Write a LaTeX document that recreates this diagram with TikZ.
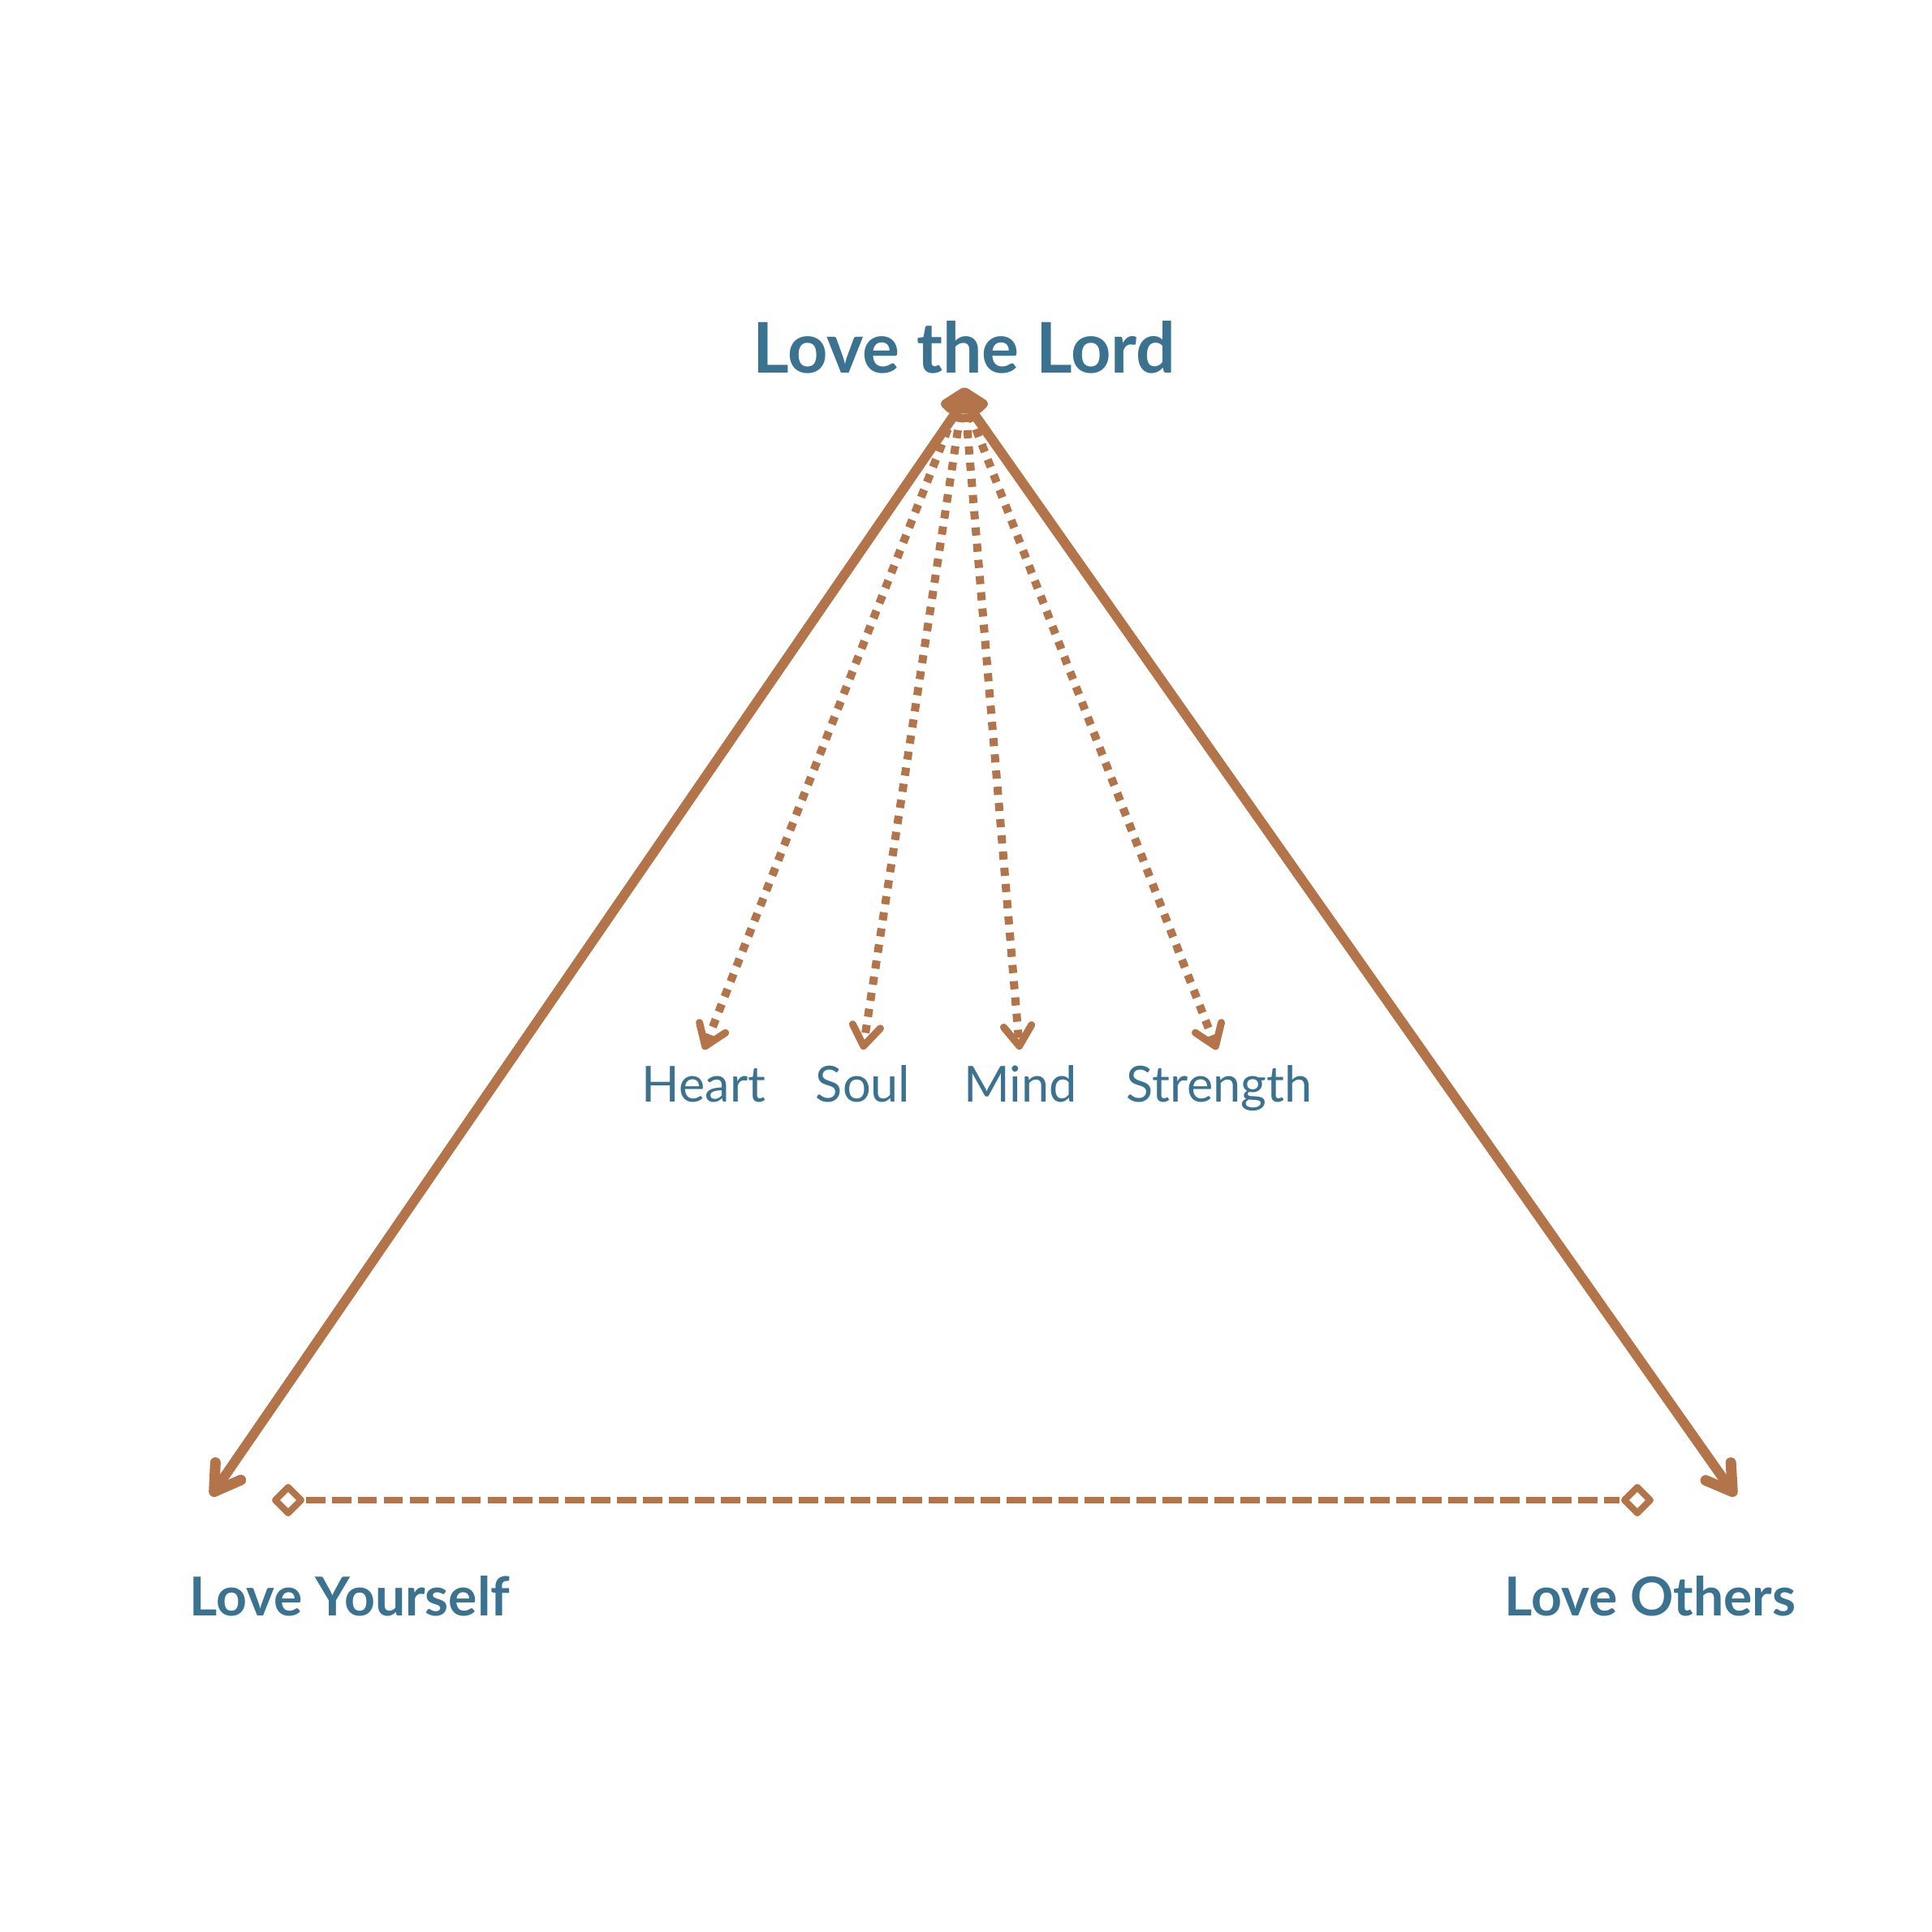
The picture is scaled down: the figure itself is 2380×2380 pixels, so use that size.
\documentclass[tikz,border=0pt]{standalone}
\usepackage{fontspec}
\setmainfont{Lato}
\usetikzlibrary{arrows.meta,shapes.geometric}
\definecolor{brn}{HTML}{B4744A}
\definecolor{blu}{HTML}{3A7290}
\begin{document}
\begin{tikzpicture}[x=0.1mm,y=-0.1mm,
  bigtxt/.style={text=blu, inner sep=0pt, anchor=base, font=\bfseries\fontsize{24.5pt}{29pt}\selectfont},
  midtxt/.style={text=blu, inner sep=0pt, anchor=base, font=\bfseries\fontsize{18.8pt}{23pt}\selectfont},
  smalltxt/.style={text=blu, inner sep=0pt, anchor=base, font=\fontsize{17.4pt}{21pt}\selectfont},
  mainline/.style={draw=brn, line width=3.4pt, line cap=round,
    -{Straight Barb[length=8.7pt,width=10.8pt,line width=3.7pt,round]}},
  dotline/.style={draw=brn, line width=2.85pt, dash pattern=on 2.85pt off 2.85pt,
    -{Straight Barb[length=7pt,width=9.8pt,line width=2.56pt,round]}},
  dashline/.style={draw=brn, line width=2.3pt, dash pattern=on 6.8pt off 2.3pt},
  dmd/.style={diamond, draw=brn, line width=2.3pt, inner sep=0pt, minimum size=10pt, fill=white, line join=round}
]
\useasboundingbox (0,0) rectangle (2380,2380);

% texts
\node[bigtxt] (lord) at (1188,460) {Love the Lord};
\node[midtxt] (self) at (431,1990) {Love Yourself};
\node[midtxt] (others) at (2033,1990) {Love Others};
\node[smalltxt] (heart) at (867,1357) {Heart};
\node[smalltxt] (soul) at (1063,1357) {Soul};
\node[smalltxt] (mind) at (1257,1357) {Mind};
\node[smalltxt] (strength) at (1502,1357) {Strength};

% coordinates
\coordinate (apex) at (1188,493);
\coordinate (sh) at (1175,510);
\coordinate (ss) at (1183,510);
\coordinate (sm) at (1190,510);
\coordinate (sg) at (1195,510);
\coordinate (lt) at (260,1843);
\coordinate (rt) at (2138,1843);
\coordinate (th) at (867,1293);
\coordinate (ts) at (1063,1293);
\coordinate (tm) at (1256,1293);
\coordinate (tg) at (1499,1293);

% dotted arrows
\draw[dotline] (sh) -- (th);
\draw[dotline] (ss) -- (ts);
\draw[dotline] (sm) -- (tm);
\draw[dotline] (sg) -- (tg);

% main lines
\draw[mainline] (apex) -- (lt);
\draw[mainline] (apex) -- (rt);

% apex blob
\fill[brn, draw=brn, line width=1.5pt, line join=round, rounded corners=1pt]
  (1188,479) -- (1216,497) -- (1206,507) -- (1170,507) -- (1160,497) -- cycle;

% dashed connector with diamonds
\node[dmd] (dl) at (355,1848) {};
\node[dmd] (dr) at (2017,1848) {};
\draw[dashline] (dl.east) -- (dr.west);
\end{tikzpicture}
\end{document}
